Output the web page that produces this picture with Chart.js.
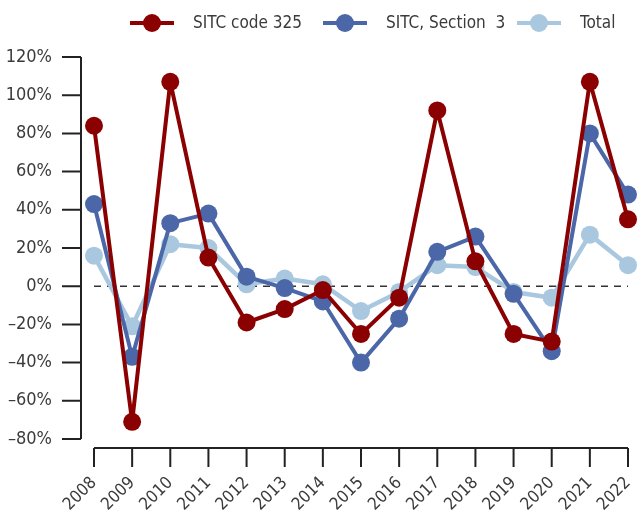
<!DOCTYPE html>
<html>
<head>
<meta charset="utf-8">
<script src="https://cdn.jsdelivr.net/npm/chart.js@4/dist/chart.umd.min.js"></script>
<style>
  html, body { margin: 0; padding: 0; background: #fff; }
  #wrap { width: 637px; height: 510px; position: relative; }
</style>
</head>
<body>
<div id="wrap"><canvas id="myChart"></canvas></div>
<script>
// values (% change)
const years = ['2008', '2009', '2010', '2011', '2012', '2013', '2014', '2015', '2016', '2017', '2018', '2019', '2020', '2021', '2022'];
const sitc325 = [84, -71, 107, 15, -19, -12, -2, -25, -6, 92, 13, -25, -29, 107, 35];
const sitcSection3 = [43, -37, 33, 38, 5, -1, -8, -40, -17, 18, 26, -4, -34, 80, 48];
const total = [16, -21, 22, 20, 1, 4, 1, -13, -3, 11, 10, -3, -6, 27, 11];
const seriesNames = ['SITC code 325', 'SITC, Section  3', 'Total'];
const seriesColors = ['#8b0000', '#4b67a8', '#a9c8df'];

const FONT = '"Liberation Sans Narrow", "DejaVu Sans Condensed", "Roboto", sans-serif';
const TEXT = '#3b3b3b';
const AXIS = '#222';

const fmtPct = v => (v < 0 ? '\u2013' + Math.abs(v) : v) + '%';

// axis lines, tick marks, zero line
const axesPlugin = {
    id: 'axesPlugin',
    beforeDatasetsDraw(chart) {
        const { ctx, chartArea, scales } = chart;
        const x = scales.x, y = scales.y;
        ctx.save();
        ctx.strokeStyle = AXIS;
        ctx.lineWidth = 2;
        // y axis
        const yx = chartArea.left - 13;
        ctx.beginPath();
        ctx.moveTo(yx, y.getPixelForValue(120));
        ctx.lineTo(yx, y.getPixelForValue(-80));
        y.ticks.forEach(t => {
            const py = y.getPixelForValue(t.value);
            ctx.moveTo(yx - 19, py);
            ctx.lineTo(yx, py);
        });
        ctx.stroke();
        // x axis
        const xy = chartArea.bottom + 9;
        ctx.beginPath();
        ctx.moveTo(x.getPixelForValue(0), xy);
        ctx.lineTo(x.getPixelForValue(years.length - 1), xy);
        years.forEach((yr, i) => {
            const px = x.getPixelForValue(i);
            ctx.moveTo(px, xy);
            ctx.lineTo(px, xy + 19);
        });
        ctx.stroke();
        // dashed zero line
        ctx.strokeStyle = '#333';
        ctx.lineWidth = 1.5;
        ctx.setLineDash([7, 6]);
        ctx.beginPath();
        ctx.moveTo(x.getPixelForValue(0), y.getPixelForValue(0));
        ctx.lineTo(x.getPixelForValue(years.length - 1), y.getPixelForValue(0));
        ctx.stroke();
        ctx.restore();
    }
};

// legend: line + dot markers
const legendPlugin = {
    id: 'legendPlugin',
    afterDraw(chart) {
        const ctx = chart.ctx;
        const starts = [130, 323, 517];
        const cy = 23;
        ctx.save();
        ctx.font = '17px ' + FONT;
        ctx.textBaseline = 'middle';
        seriesNames.forEach((name, i) => {
            const sx = starts[i];
            ctx.strokeStyle = seriesColors[i];
            ctx.lineWidth = 4;
            ctx.beginPath();
            ctx.moveTo(sx, cy);
            ctx.lineTo(sx + 44, cy);
            ctx.stroke();
            ctx.fillStyle = seriesColors[i];
            ctx.beginPath();
            ctx.arc(sx + 22, cy, 9, 0, Math.PI * 2);
            ctx.fill();
            ctx.fillStyle = TEXT;
            ctx.fillText(name, sx + 63, cy + 1);
        });
        ctx.restore();
    }
};

const makeSet = (label, data, color, width) => ({
    label: label,
    data: data,
    borderColor: color,
    backgroundColor: color,
    borderWidth: width,
    borderJoinStyle: 'round',
    pointRadius: 9,
    pointHoverRadius: 9,
    pointBorderWidth: 0,
    pointBackgroundColor: color,
    tension: 0,
    clip: false
});

const lineChart = new Chart(document.getElementById('myChart'), {
    type: 'line',
    data: {
        labels: years,
        datasets: [
            makeSet(seriesNames[0], sitc325, seriesColors[0], 4),
            makeSet(seriesNames[1], sitcSection3, seriesColors[1], 4),
            makeSet(seriesNames[2], total, seriesColors[2], 4.5)
        ]
    },
    options: {
        responsive: true,
        maintainAspectRatio: false,
        animation: false,
        layout: { padding: { top: 57, right: 6, left: 0, bottom: 0 } },
        plugins: {
            legend: { display: false },
            tooltip: { enabled: false }
        },
        scales: {
            x: {
                offset: false,
                grid: { display: false },
                border: { display: false },
                afterFit: s => {
                    s.height = 71;
                    s.paddingLeft = 0;
                    s.paddingRight = 0;
                },
                ticks: {
                    autoSkip: false,
                    minRotation: 45,
                    maxRotation: 45,
                    padding: 26,
                    color: TEXT,
                    font: { family: FONT, size: 17 }
                }
            },
            y: {
                min: -80,
                max: 120,
                grid: { display: false },
                border: { display: false },
                afterFit: s => {
                    s.width = 94;
                    s.paddingTop = 0;
                    s.paddingBottom = 0;
                },
                ticks: {
                    stepSize: 20,
                    padding: 34,
                    color: TEXT,
                    font: { family: FONT, size: 18 },
                    callback: v => fmtPct(v)
                }
            }
        }
    },
    plugins: [axesPlugin, legendPlugin]
});
</script>
</body>
</html>
